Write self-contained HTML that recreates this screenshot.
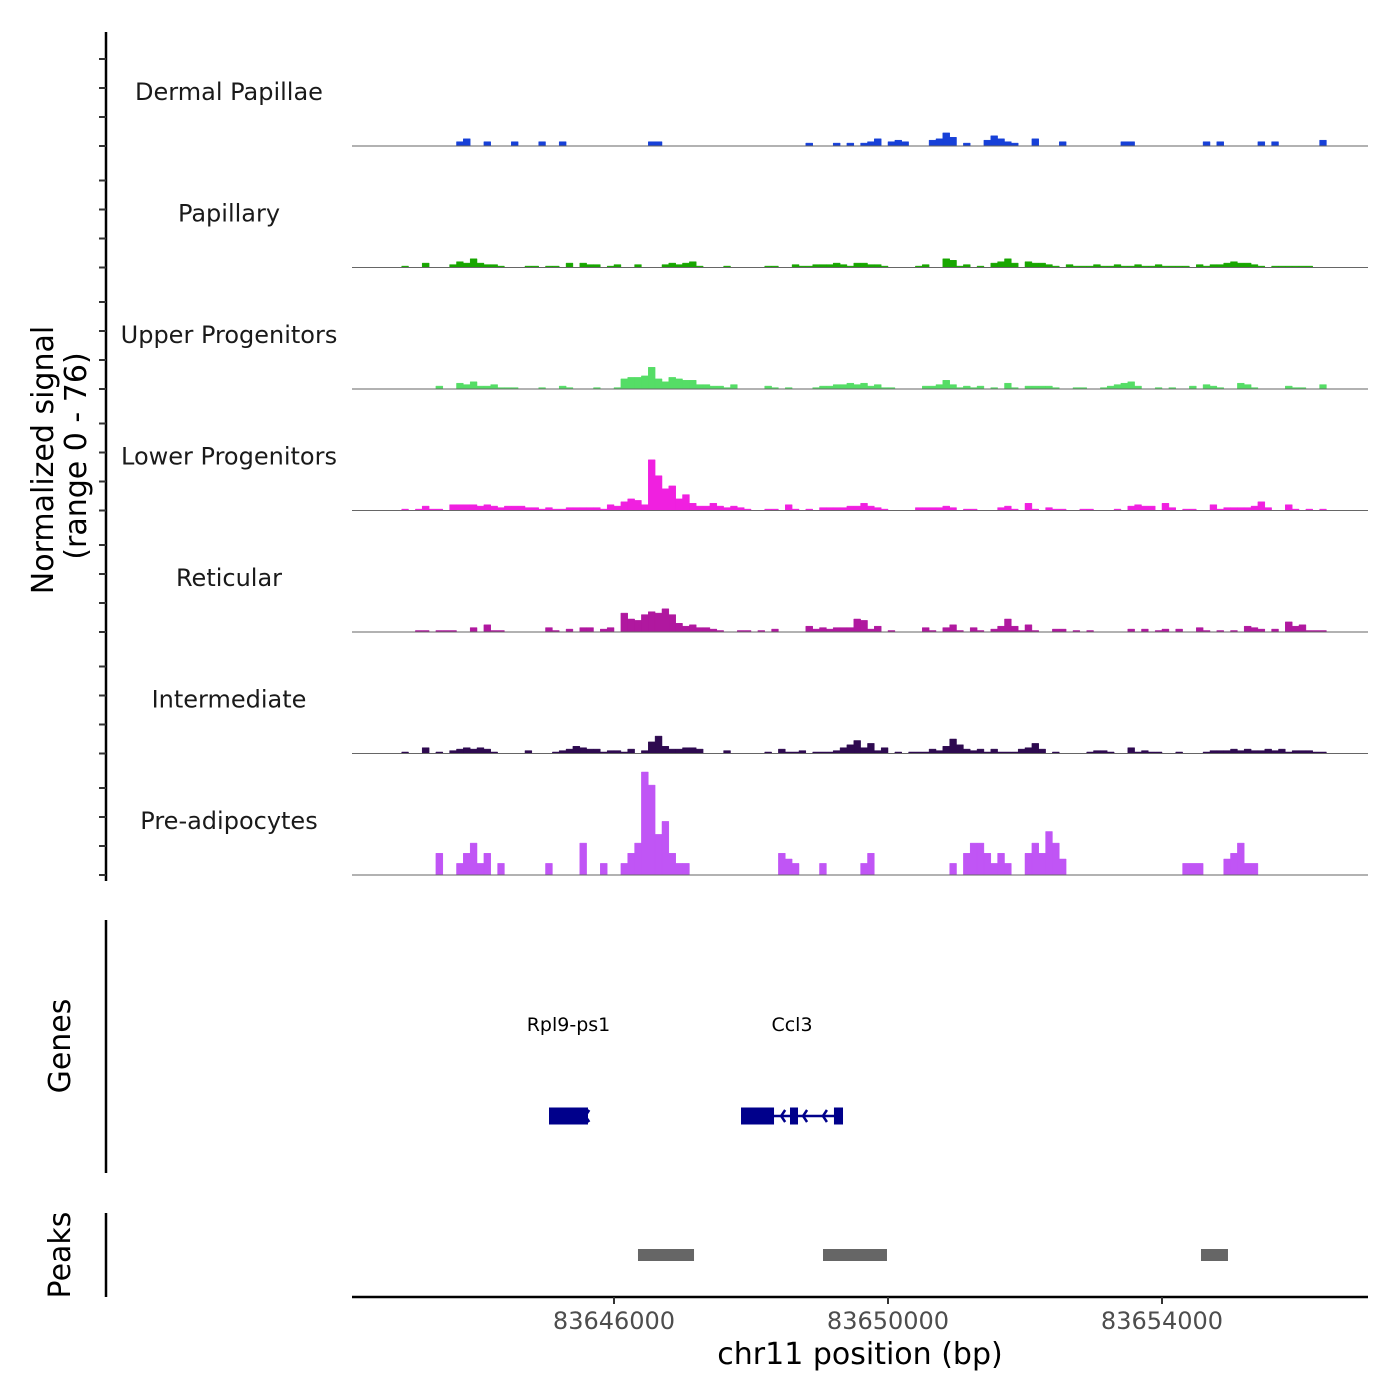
<!DOCTYPE html>
<html><head><meta charset="utf-8"><style>
html,body{margin:0;padding:0;background:#fff;}
svg{display:block;font-family:"DejaVu Sans","Liberation Sans",sans-serif;}
</style></head><body>
<svg id="chart" width="1400" height="1400" viewBox="0 0 1400 1400" xmlns="http://www.w3.org/2000/svg">
<rect width="1400" height="1400" fill="#fff"/>
<g id="tracks"></g>
<g id="leftaxis"></g>
<text transform="translate(53,460) rotate(-90)" text-anchor="middle" font-size="30" fill="#000">Normalized signal</text>
<text transform="translate(86,456) rotate(-90)" text-anchor="middle" font-size="30" fill="#000">(range 0 - 76)</text>
<line x1="106" y1="920" x2="106" y2="1173" stroke="#000" stroke-width="2.5"/>
<text transform="translate(70,1046) rotate(-90)" text-anchor="middle" font-size="30" fill="#000">Genes</text>
<g id="genes"></g>
<line x1="106" y1="1213" x2="106" y2="1297" stroke="#000" stroke-width="2.5"/>
<text transform="translate(70,1255) rotate(-90)" text-anchor="middle" font-size="30" fill="#000">Peaks</text>
<g id="peaks"></g>
<g id="xaxis"></g>
<text x="860" y="1364" text-anchor="middle" font-size="30" fill="#000">chr11 position (bp)</text>
</svg>
<script>
const trackNames = ["Dermal Papillae","Papillary","Upper Progenitors","Lower Progenitors","Reticular","Intermediate","Pre-adipocytes"];
const trackColors = ["#1740d8","#18a600","#55dd66","#f020e0","#b0189f","#2e0a50","#c055f5"];
const binStart = 83642200;
const binSize = 100;
const xTickValues = [83646000, 83650000, 83654000];
const xTickLabels = ["83646000","83650000","83654000"];
const yTickValues = [0, 20, 40, 60];

const dermalBins = [15,16,19,23,27,30,43,44,66,70,72,74,75,76,78,79,80,84,85,86,87,89,92,93,94,95,96,99,103,112,113,124,126,132,134,141];
const dermalVals = [3,5,3,3,3,3,3,3,2,2,2,2,3,5,3,4,3,4,5,9,6,2,4,7,5,3,2,5,3,3,3,3,3,3,3,4];

const papillaryBins = [7,10,14,15,16,17,18,19,20,21,25,26,28,29,31,33,34,35,37,38,41,45,46,47,48,49,50,54,60,61,64,65,66,67,68,69,70,71,72,73,74,75,76,77,82,83,86,87,88,89,91,93,94,95,96,98,99,100,101,102,104,105,106,107,108,109,110,111,112,113,114,115,116,117,118,119,120,121,123,124,125,126,127,128,129,130,131,132,134,135,136,137,138,139];
const papillaryVals = [1,3,2,4,3,6,3,2,2,1,1,1,1,1,3,3,2,2,1,2,2,2,3,2,3,4,1,1,1,1,2,1,1,2,2,2,3,2,1,3,3,2,2,1,1,2,6,5,1,2,1,3,4,6,3,4,3,3,2,1,2,1,1,1,2,1,1,2,1,1,2,1,1,2,1,1,1,1,2,1,2,2,3,4,3,3,2,1,1,1,1,1,1,1];

const upperBins = [12,15,16,17,18,19,20,21,22,23,27,30,31,35,38,39,40,41,42,43,44,45,46,47,48,49,50,51,52,53,54,55,60,61,63,67,68,69,70,71,72,73,74,75,76,77,78,83,84,85,86,87,88,89,90,91,93,95,96,98,99,100,101,102,105,106,109,110,111,112,113,114,117,119,122,124,125,126,129,130,131,136,137,138,141];
const upperVals = [2,4,3,5,2,2,3,1,1,1,1,2,1,1,1,7,8,8,9,15,7,5,8,7,6,6,3,3,2,2,1,3,2,1,1,1,2,2,3,3,4,3,4,2,3,1,1,2,2,3,6,3,1,2,1,2,1,4,1,2,2,2,2,1,1,1,1,2,3,4,5,2,1,1,2,3,2,1,4,3,1,2,1,1,3];

const lowerBins = [7,9,10,11,12,14,15,16,17,18,19,20,21,22,23,24,25,26,27,28,29,30,31,32,33,34,35,36,37,38,39,40,41,42,43,44,45,46,47,48,49,50,51,52,53,54,55,56,57,60,61,63,64,66,68,69,70,71,72,73,74,75,76,77,82,83,84,85,86,87,89,90,94,95,96,98,99,101,102,103,106,107,111,113,114,115,116,118,119,121,122,125,126,127,128,129,130,131,132,133,136,137,139,141];
const lowerVals = [1,1,3,1,1,4,4,4,4,3,4,3,2,3,3,3,2,2,1,2,1,1,2,2,2,2,2,1,4,3,6,8,7,4,35,24,15,17,8,11,5,3,3,5,3,2,3,2,1,1,1,4,1,1,2,2,2,2,3,3,5,3,2,1,2,2,2,2,3,2,1,1,2,3,1,5,1,2,1,1,1,1,1,3,4,3,3,5,2,1,1,4,1,2,2,2,2,3,6,2,4,1,1,1];

const reticularBins = [9,10,12,13,14,17,19,20,21,28,29,31,33,34,36,37,39,40,41,42,43,44,45,46,47,48,49,50,51,52,53,56,57,59,61,66,67,68,69,70,71,72,73,74,75,76,78,83,84,86,87,88,90,91,93,94,95,96,97,98,99,102,103,105,107,113,115,117,118,120,123,124,126,128,130,131,132,134,136,137,138,139,140,141];
const reticularVals = [1,1,1,1,1,3,5,1,1,3,1,2,3,3,2,3,13,9,8,12,14,13,16,12,6,4,5,3,3,2,1,1,1,1,2,4,2,3,2,3,3,3,9,8,2,4,1,3,1,3,5,1,3,1,2,4,9,4,1,5,1,2,2,1,1,2,2,1,2,2,3,1,1,1,4,3,2,2,7,4,5,1,1,1];

const interBins = [7,10,12,14,15,16,17,18,19,20,25,29,30,31,32,33,34,35,36,37,38,39,40,42,43,44,45,46,47,48,49,50,54,60,62,63,64,65,67,68,69,70,71,72,73,74,75,76,77,79,81,82,83,84,85,86,87,88,89,90,91,92,93,94,95,96,97,98,99,100,102,107,108,109,110,113,114,115,116,117,120,124,125,126,127,128,129,130,131,132,133,134,135,136,137,138,139,140,141];
const interVals = [1,4,1,2,3,4,3,4,3,1,2,1,2,3,5,4,3,3,1,2,2,1,3,2,8,12,5,3,3,4,4,3,2,1,3,1,1,2,1,1,1,2,4,6,9,4,7,2,4,1,1,1,1,3,2,5,10,6,3,2,3,1,3,1,1,1,3,4,7,3,1,1,2,2,1,4,1,2,1,1,1,1,2,2,2,3,2,3,2,2,3,2,3,1,2,2,2,1,1];

const preBins = [12,15,16,17,18,19,21,28,33,36,39,40,41,42,43,44,45,46,47,48,62,63,64,68,74,75,87,89,90,91,92,93,94,95,98,99,100,101,102,103,121,122,123,127,128,129,130,131];
const preVals = [15,8,15,22,8,15,8,8,22,8,8,15,22,71,62,28,37,15,8,8,15,11,8,8,8,15,8,15,22,22,15,8,15,8,15,22,15,30,22,11,8,8,8,11,15,22,8,8];

const trackBins = [dermalBins,papillaryBins,upperBins,lowerBins,reticularBins,interBins,preBins];
const trackVals = [dermalVals,papillaryVals,upperVals,lowerVals,reticularVals,interVals,preVals];

const geneNames = ["Rpl9-ps1","Ccl3"];
const geneStarts = [83645051, 83647854];
const geneEnds = [83645620, 83649343];
const exonStarts = [83645051, 83647854, 83648569, 83649211];
const exonEnds = [83645620, 83648336, 83648686, 83649343];
const chevronPositions = [83645580, 83648440, 83648760, 83649050];
const peakStarts = [83646350, 83649051, 83654569];
const peakEnds = [83647168, 83649985, 83654963];

const NS = "http://www.w3.org/2000/svg";
const X0 = 352, X1 = 1368, BP0 = 83642175, PXPERBP = 0.0685;
function xScale(bp){ return X0 + (bp - BP0) * PXPERBP; }
const baselines = [146, 267.5, 389, 510.5, 632, 753.5, 875];
const PXPERUNIT = 1.45;
function yScale(v, t){ return baselines[t] - v * PXPERUNIT; }
function mk(tag, attrs, parent){
  const el = document.createElementNS(NS, tag);
  for (const k in attrs) el.setAttribute(k, attrs[k]);
  parent.appendChild(el);
  return el;
}

const tracksG = document.getElementById("tracks");
for (let t = 0; t < trackNames.length; t++){
  const g = mk("g", {}, tracksG);
  
  
  const lab = mk("text", {x: 229, y: baselines[t] - 46, "text-anchor":"middle", "font-size": 24, fill:"#1a1a1a"}, g);
  lab.textContent = trackNames[t];
  
  
  const bins = trackBins[t], vals = trackVals[t];
  let d = "";
  for (let k = 0; k < bins.length; k++){
    const xa = xScale(binStart + bins[k]*binSize), xb = xScale(binStart + (bins[k]+1)*binSize);
    const y = yScale(vals[k], t), yb = baselines[t];
    d += "M" + xa.toFixed(1) + "," + yb + "L" + xa.toFixed(1) + "," + y.toFixed(1) + "L" + xb.toFixed(1) + "," + y.toFixed(1) + "L" + xb.toFixed(1) + "," + yb + "Z";
  }
  const area = mk("path", {d: d, fill: trackColors[t], stroke: trackColors[t], "stroke-width": 0.5}, g);
  
  
  const bl = mk("line", {x1: X0, x2: X1, y1: baselines[t], y2: baselines[t], stroke: "#666", "stroke-width": 1}, g);
  
  
}

const la = document.getElementById("leftaxis");
const axl = mk("line", {x1:106, x2:106, y1:32, y2:881, stroke:"#000", "stroke-width":2.5}, la);


for (let t = 0; t < baselines.length; t++){
  for (const v of yTickValues){
    const y = yScale(v, t);
    const tk = mk("line", {x1:99, x2:106, y1:y, y2:y, stroke:"#333", "stroke-width":2}, la);
    
    
  }
}

const gg = document.getElementById("genes");
const geneColor = "#00008b", geneY = 1116;
for (let i = 0; i < geneNames.length; i++){
  const lb = mk("text", {x: (xScale(geneStarts[i]) + xScale(geneEnds[i]))/2, y: 1031, "text-anchor":"middle", "font-size":19, fill:"#000"}, gg);
  lb.textContent = geneNames[i];
  
  
  const ln = mk("line", {x1: xScale(geneStarts[i]), x2: xScale(geneEnds[i]), y1: geneY, y2: geneY, stroke: geneColor, "stroke-width": 2.5}, gg);
  
  
}
for (let i = 0; i < exonStarts.length; i++){
  const r = mk("rect", {x: xScale(exonStarts[i]), y: geneY - 8.5, width: xScale(exonEnds[i]) - xScale(exonStarts[i]), height: 17, fill: geneColor}, gg);
  
  
}
for (const c of chevronPositions){
  const cx = xScale(c);
  const p = mk("path", {d: "M" + (cx+4) + "," + (geneY-6) + "L" + cx + "," + geneY + "L" + (cx+4) + "," + (geneY+6), fill:"none", stroke: geneColor, "stroke-width": 2.5}, gg);
  
  
}

const pg = document.getElementById("peaks");
for (let i = 0; i < peakStarts.length; i++){
  const r = mk("rect", {x: xScale(peakStarts[i]), y: 1249, width: xScale(peakEnds[i]) - xScale(peakStarts[i]), height: 12, fill: "#666"}, pg);
  
  
}

const xg = document.getElementById("xaxis");
const xl = mk("line", {x1: X0, x2: X1, y1: 1297, y2: 1297, stroke:"#000", "stroke-width": 2.5}, xg);


for (let i = 0; i < xTickValues.length; i++){
  const x = xScale(xTickValues[i]);
  const tk = mk("line", {x1:x, x2:x, y1:1297, y2:1304, stroke:"#333", "stroke-width":2}, xg);
  
  
  const tl = mk("text", {x:x, y:1329, "text-anchor":"middle", "font-size":24, fill:"#4d4d4d"}, xg);
  tl.textContent = xTickLabels[i];
  
  
}
</script>
</body></html>
